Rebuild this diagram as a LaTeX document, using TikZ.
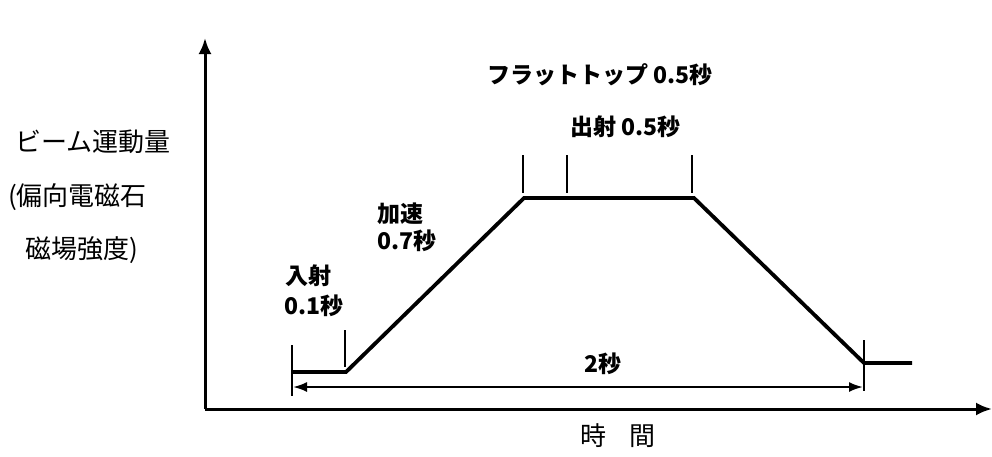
\documentclass[tikz,border=0pt]{standalone}
\usepackage{fontspec}
\newfontfamily\jp{Noto Sans CJK JP}
\usetikzlibrary{arrows.meta}
\begin{document}
\begin{tikzpicture}[x=1pt,y=-1pt,
  axis/.style={line width=3pt,-{Latex[length=16pt,width=13pt]}},
  curve/.style={line width=3.8pt,line join=miter},
  tick/.style={line width=2pt},
  dim/.style={line width=2.2pt,{Latex[length=14pt,width=10pt]}-{Latex[length=14pt,width=10pt]}},
  lab/.style={font=\jp\bfseries\fontsize{23}{26}\selectfont,inner sep=0pt,anchor=west},
  side/.style={font=\jp\fontsize{26}{30}\selectfont,inner sep=0pt,anchor=west}]
\useasboundingbox (0,0) rectangle (992,456);
% axes
\coordinate (O) at (205,409);
\coordinate (Ytop) at (205,38);
\coordinate (Xend) at (992,409);
\draw[axis] (O) -- (Ytop);
\draw[axis] (O) -- (Xend);
% curve
\coordinate (p0) at (292,372);
\coordinate (p1) at (346,372);
\coordinate (p2) at (524,198);
\coordinate (p3) at (694,198);
\coordinate (p4) at (864,363);
\coordinate (p5) at (912,363);
\draw[curve] (p0) -- (p1) -- (p2) -- (p3) -- (p4) -- (p5);
% ticks
\coordinate (t1a) at (292,345); \coordinate (t1b) at (292,396);
\coordinate (t2a) at (345,330); \coordinate (t2b) at (345,367);
\coordinate (t3a) at (523,155); \coordinate (t3b) at (523,193);
\coordinate (t4a) at (567,155); \coordinate (t4b) at (567,193);
\coordinate (t5a) at (692,155); \coordinate (t5b) at (692,193);
\coordinate (t6a) at (864,340); \coordinate (t6b) at (864,391);
\draw[tick] (t1a) -- (t1b);
\draw[tick] (t2a) -- (t2b);
\draw[tick] (t3a) -- (t3b);
\draw[tick] (t4a) -- (t4b);
\draw[tick] (t5a) -- (t5b);
\draw[tick] (t6a) -- (t6b);
% dimension
\coordinate (d0) at (293,387);
\coordinate (d1) at (863,387);
\draw[dim] (d0) -- (d1);
% labels
\node[lab] (flat) at (487,75) {フラットトップ 0.5秒};
\node[lab] (ext) at (570,127) {出射 0.5秒};
\node[lab] (acc) at (377,214) {加速};
\node[lab] (acct) at (377,241) {0.7秒};
\node[lab] (inj) at (285,276) {入射};
\node[lab] (injt) at (284,306) {0.1秒};
\node[lab] (two) at (584,364) {2秒};
\node[side] (s1) at (15,142) {ビーム運動量};
\node[side] (s2) at (8,197) {(偏向電磁石};
\node[side] (s3) at (25,250) {磁場強度)};
\node[side] (time) at (580,436) {時\hspace{0.9em}間};
\end{tikzpicture}
\end{document}
